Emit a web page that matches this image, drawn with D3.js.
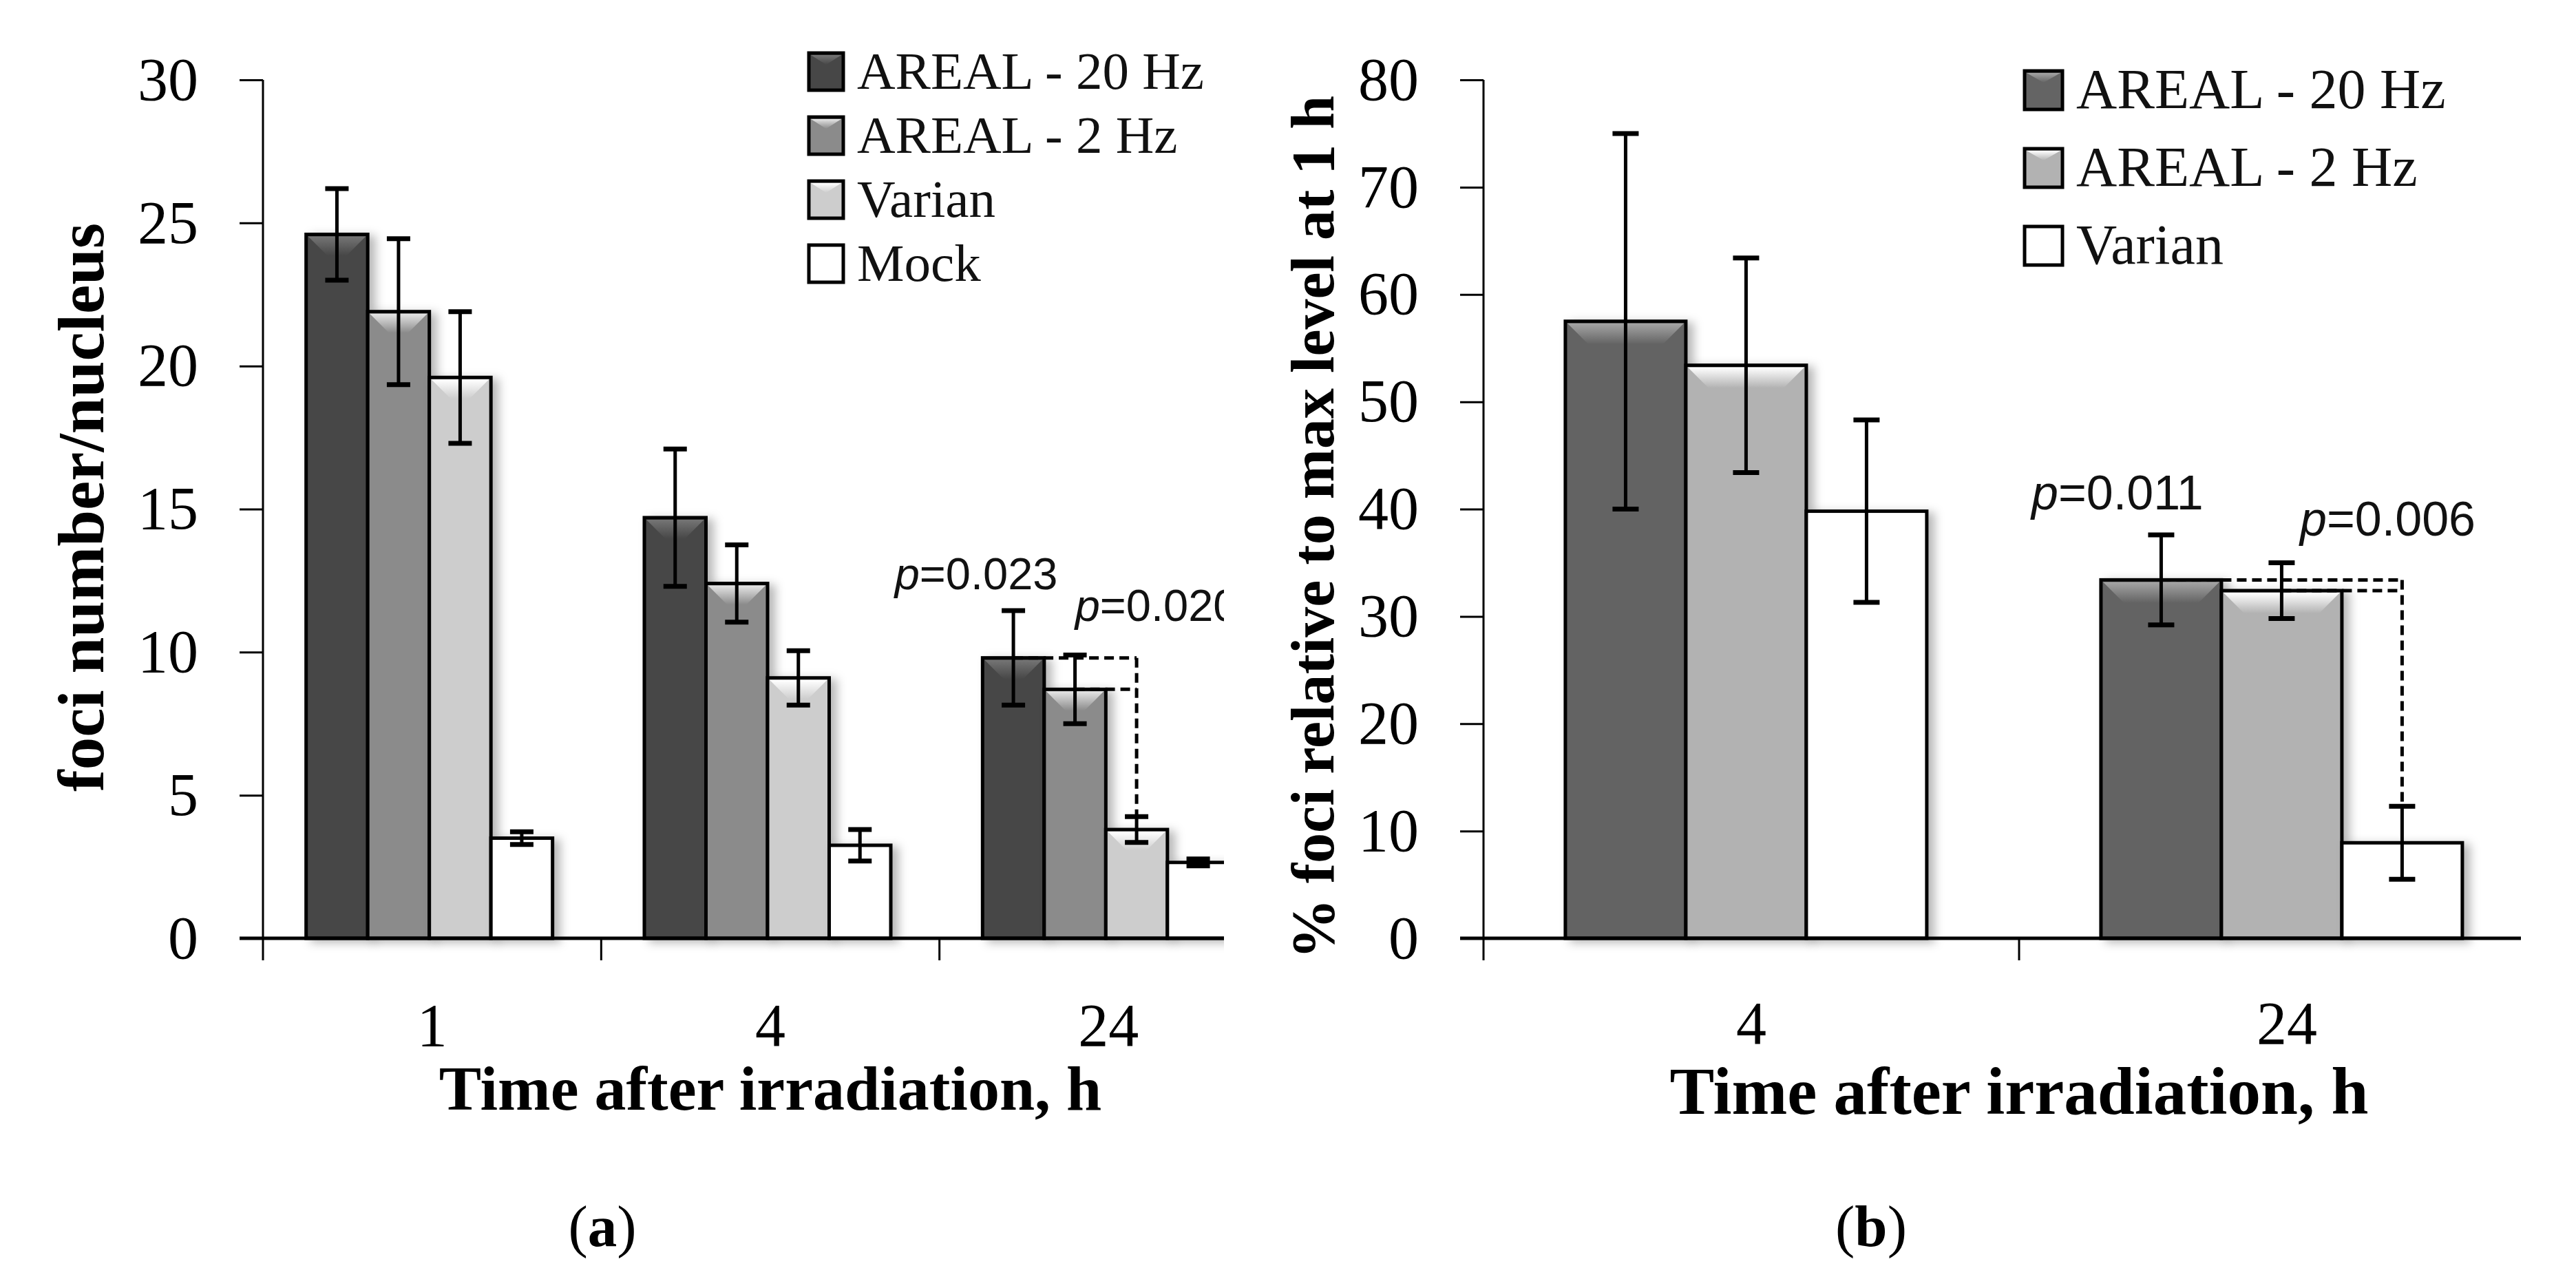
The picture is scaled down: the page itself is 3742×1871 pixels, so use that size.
<!DOCTYPE html>
<html><head><meta charset="utf-8">
<script src="https://cdn.jsdelivr.net/npm/d3@7"></script>
<style>html,body{margin:0;padding:0;background:#fff;} svg{display:block;background:#fff}</style>
</head><body><svg id="chart" width="3742" height="1871"></svg>
<script>
// ---------- Panel (a) data ----------
const timesA = ["1", "4", "24"];
const seriesA = ["AREAL - 20 Hz", "AREAL - 2 Hz", "Varian", "Mock"];
const areal20A = [24.6, 14.7, 9.8];
const areal20ErrA = [1.6, 2.4, 1.65];
const areal2A = [21.9, 12.4, 8.7];
const areal2ErrA = [2.55, 1.35, 1.2];
const varianA = [19.6, 9.1, 3.8];
const varianErrA = [2.3, 0.95, 0.45];
const mockA = [3.5, 3.25, 2.65];
const mockErrA = [0.22, 0.55, 0.12];
const ticksA = [0, 5, 10, 15, 20, 25, 30];
const pLabelsA = ["0.023", "0.020"];

// ---------- Panel (b) data ----------
const timesB = ["4", "24"];
const seriesB = ["AREAL - 20 Hz", "AREAL - 2 Hz", "Varian"];
const areal20B = [57.5, 33.4];
const areal20ErrB = [17.5, 4.2];
const areal2B = [53.4, 32.4];
const areal2ErrB = [10.0, 2.6];
const varianB = [39.8, 8.9];
const varianErrB = [8.5, 3.4];
const ticksB = [0, 10, 20, 30, 40, 50, 60, 70, 80];
const pLabelsB = ["0.011", "0.006"];

const SERIF = "'Liberation Serif', 'Times New Roman', serif";
const SANS = "'Liberation Sans', Arial, sans-serif";

const svg = d3.select("#chart");
const defs = svg.append("defs");
const shadow = defs.append("filter").attr("id", "shadow")
  .attr("x", "-20%").attr("y", "-10%").attr("width", "160%").attr("height", "130%");
shadow.append("feDropShadow").attr("dx", 9).attr("dy", 4).attr("stdDeviation", 7)
  .attr("flood-color", "#000").attr("flood-opacity", 0.28);

function bevelGrad(id, color) {
  const g = defs.append("linearGradient").attr("id", id)
    .attr("x1", 0).attr("y1", 0).attr("x2", 0).attr("y2", 1);
  g.append("stop").attr("offset", "0%").attr("stop-color", d3.color(color).brighter(1.4).formatHex());
  g.append("stop").attr("offset", "100%").attr("stop-color", color);
}

function drawPanel(c) {
  const g = svg.append("g");
  c.colors.forEach((col, j) => bevelGrad(`bev${c.key}${j}`, col));

  const x0 = d3.scaleBand().domain(c.cats).range(c.xRange).paddingInner(0).paddingOuter(0);
  const x1 = d3.scaleBand().domain(c.series).range([0, x0.bandwidth()])
    .paddingInner(0).paddingOuter(c.outer).align(0.47);
  const y = d3.scaleLinear().domain([0, c.yMax]).range([c.yBase, c.yTop]);
  const bw = x1.bandwidth();
  const cx = (cat, j) => x0(cat) + x1(c.series[j]) + bw / 2;

  let plot = g.append("g");
  if (c.clipX) {
    defs.append("clipPath").attr("id", "clip" + c.key).append("rect")
      .attr("x", 0).attr("y", 0).attr("width", c.clipX).attr("height", 1871);
    plot.attr("clip-path", `url(#clip${c.key})`);
  }

  const rows = [];
  c.cats.forEach((cat, i) => c.series.forEach((s, j) =>
    rows.push({ cat, s, j, i, v: c.values[j][i], e: c.errs[j][i] })));

  // bars
  const bars = plot.append("g").selectAll("g").data(rows).join("g");
  bars.append("rect")
    .attr("x", d => x0(d.cat) + x1(d.s)).attr("y", d => y(d.v))
    .attr("width", bw).attr("height", d => y(0) - y(d.v))
    .attr("fill", d => c.colors[d.j]).attr("stroke", "#000").attr("stroke-width", 5)
    .attr("filter", "url(#shadow)");
  bars.append("polygon")
    .attr("points", d => {
      const bx = x0(d.cat) + x1(d.s), t = y(d.v), s = 3;
      const h = Math.min(c.bevel, (bw - 2 * s) / 2 - 14, (y(0) - t) - 2 * s);
      return [[bx + s, t + s], [bx + bw - s, t + s], [bx + bw - s - h, t + s + h], [bx + s + h, t + s + h]].join(" ");
    })
    .attr("fill", d => `url(#bev${c.key}${d.j})`);

  // baseline
  plot.append("line").attr("x1", c.baseFrom).attr("x2", c.baseTo)
    .attr("y1", y(0)).attr("y2", y(0)).attr("stroke", "#000").attr("stroke-width", 5);

  // error bars
  const eb = plot.append("g").selectAll("g").data(rows).join("g")
    .attr("transform", d => `translate(${cx(d.cat, d.j)},0)`);
  eb.append("line").attr("x1", 0).attr("x2", 0)
    .attr("y1", d => y(d.v + d.e)).attr("y2", d => y(d.v - d.e))
    .attr("stroke", "#000").attr("stroke-width", 5);
  [1, -1].forEach(sg => {
    eb.append("line").attr("x1", -c.cap / 2).attr("x2", c.cap / 2)
      .attr("y1", d => y(d.v + sg * d.e)).attr("y2", d => y(d.v + sg * d.e))
      .attr("stroke", "#000").attr("stroke-width", 7);
  });

  // significance brackets
  const cmp = c.compare;
  const ci = c.cats.indexOf(cmp.cat);
  const tx = cx(cmp.cat, cmp.to);
  cmp.from.forEach(j => {
    plot.append("line").attr("x1", cx(cmp.cat, j)).attr("x2", tx)
      .attr("y1", y(c.values[j][ci])).attr("y2", y(c.values[j][ci]))
      .attr("stroke", "#000").attr("stroke-width", 5).attr("stroke-dasharray", "14,8");
  });
  plot.append("line").attr("x1", tx).attr("x2", tx)
    .attr("y1", y(c.values[cmp.from[0]][ci]))
    .attr("y2", y(c.values[cmp.to][ci] + c.errs[cmp.to][ci]))
    .attr("stroke", "#000").attr("stroke-width", 5).attr("stroke-dasharray", "14,8");
  c.pLabels.forEach((lab, k) => {
    const t = plot.append("text")
      .attr("x", x0(cmp.cat) + c.pPos[k][0]).attr("y", y(c.pPos[k][1]))
      .attr("font-family", SANS).attr("font-size", c.pSize).attr("fill", "#111");
    t.append("tspan").attr("font-style", "italic").text("p");
    t.append("tspan").text("=" + lab);
  });

  // y axis
  const ya = g.append("g").attr("transform", `translate(${c.xRange[0]},0)`)
    .call(d3.axisLeft(y).tickValues(c.ticks).tickSize(34).tickPadding(60).tickSizeOuter(0));
  ya.select(".domain").remove();
  ya.selectAll(".tick line").attr("stroke", "#000").attr("stroke-width", 3);
  ya.selectAll(".tick text").attr("font-family", SERIF).attr("font-size", 88).attr("fill", "#000");
  g.append("line").attr("x1", c.xRange[0]).attr("x2", c.xRange[0])
    .attr("y1", y(c.yMax)).attr("y2", y(0) + 32).attr("stroke", "#000").attr("stroke-width", 3);

  // x axis labels
  const xa = g.append("g").attr("transform", `translate(0,${y(0)})`)
    .call(d3.axisBottom(x0).tickSize(0).tickPadding(c.xLabelPad));
  xa.select(".domain").remove();
  xa.selectAll(".tick text").attr("font-family", SERIF).attr("font-size", 88).attr("fill", "#000");
  c.cats.slice(1).forEach(cat => {
    g.append("line").attr("x1", x0(cat)).attr("x2", x0(cat))
      .attr("y1", y(0)).attr("y2", y(0) + 32).attr("stroke", "#000").attr("stroke-width", 3);
  });

  // titles
  g.append("text").attr("x", (c.xRange[0] + c.xRange[1]) / 2).attr("y", c.xTitleY)
    .attr("text-anchor", "middle").attr("font-family", SERIF).attr("font-weight", "bold")
    .attr("font-size", c.xTitleSize).attr("fill", "#000").text("Time after irradiation, h");
  g.append("text").attr("transform", `translate(${c.yTitleX},${c.yTitleY}) rotate(-90)`)
    .attr("text-anchor", "middle").attr("font-family", SERIF).attr("font-weight", "bold")
    .attr("font-size", c.yTitleSize).attr("fill", "#000").text(c.yTitle);

  // legend
  const lg = g.append("g");
  c.series.forEach((s, j) => {
    const cy = c.legY + j * c.legStep;
    lg.append("rect").attr("x", c.legX).attr("y", cy - c.legH / 2)
      .attr("width", c.legW).attr("height", c.legH)
      .attr("fill", c.colors[j]).attr("stroke", "#000").attr("stroke-width", 5);
    const s2 = 3, h = 14;
    lg.append("polygon").attr("points",
      [[c.legX + s2, cy - c.legH / 2 + s2], [c.legX + c.legW - s2, cy - c.legH / 2 + s2],
       [c.legX + c.legW / 2, cy - c.legH / 2 + s2 + h]].join(" "))
      .attr("fill", `url(#bev${c.key}${j})`);
    lg.append("text").attr("x", c.legX + c.legW + 20).attr("y", cy + c.legH / 2 - 2)
      .attr("font-family", SERIF).attr("font-size", c.legSize).attr("fill", "#111").text(s);
  });

  // caption
  const cap = g.append("text").attr("x", c.capX).attr("y", 1810).attr("text-anchor", "middle")
    .attr("font-family", SERIF).attr("font-size", 85).attr("fill", "#000");
  cap.append("tspan").text("(");
  cap.append("tspan").attr("font-weight", "bold").text(c.capLetter);
  cap.append("tspan").text(")");
}

drawPanel({
  key: "a", cats: timesA, series: seriesA,
  values: [areal20A, areal2A, varianA, mockA],
  errs: [areal20ErrA, areal2ErrA, varianErrA, mockErrA],
  ticks: ticksA, yMax: 30, yBase: 1363, yTop: 116,
  xRange: [382, 1856], outer: 0.745, clipX: 1778,
  baseFrom: 348, baseTo: 1778, bevel: 30, cap: 34,
  colors: ["#474747", "#8b8b8b", "#cdcdcd", "#ffffff"],
  compare: { cat: "24", from: [0, 1], to: 2 },
  pLabels: pLabelsA, pPos: [[-65, 12.2], [197, 11.1]], pSize: 65,
  xLabelPad: 94, xTitleY: 1612, xTitleSize: 92,
  yTitle: "foci number/nucleus", yTitleX: 150, yTitleY: 737, yTitleSize: 95,
  legX: 1175, legY: 104, legStep: 93, legW: 50, legH: 54, legSize: 77,
  capX: 875, capLetter: "a"
});

drawPanel({
  key: "b", cats: timesB, series: seriesB,
  values: [areal20B, areal2B, varianB],
  errs: [areal20ErrB, areal2ErrB, varianErrB],
  ticks: ticksB, yMax: 80, yBase: 1363, yTop: 116,
  xRange: [2155, 3711], outer: 0.723, clipX: null,
  baseFrom: 2121, baseTo: 3662, bevel: 30, cap: 38,
  colors: ["#646464", "#b2b2b2", "#ffffff"],
  compare: { cat: "24", from: [0, 1], to: 2 },
  pLabels: pLabelsB, pPos: [[18, 40.0], [408, 37.5]], pSize: 70,
  xLabelPad: 91, xTitleY: 1618, xTitleSize: 97,
  yTitle: "% foci relative to max level at 1 h", yTitleX: 1937, yTitleY: 766, yTitleSize: 88,
  legX: 2941, legY: 131, legStep: 113, legW: 55, legH: 56, legSize: 82,
  capX: 2718, capLetter: "b"
});
</script>
</body></html>
